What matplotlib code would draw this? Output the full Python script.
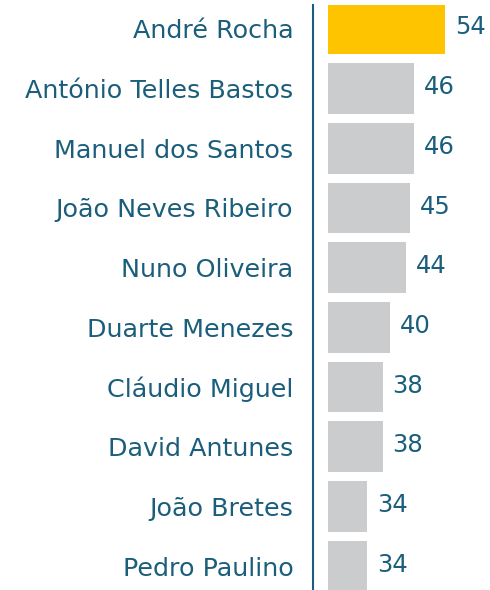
import matplotlib
matplotlib.use("Agg")
import matplotlib.pyplot as plt

names = ["André Rocha", "António Telles Bastos", "Manuel dos Santos",
         "João Neves Ribeiro", "Nuno Oliveira", "Duarte Menezes",
         "Cláudio Miguel", "David Antunes", "João Bretes", "Pedro Paulino"]
values = [54, 46, 46, 45, 44, 40, 38, 38, 34, 34]
highlight = "André Rocha"

TEXT = "#1B5E7B"
GOLD = "#FFC400"
GRAY = "#CBCCCE"

plt.rcParams['font.family'] = ['DejaVu Sans']

fig = plt.figure(figsize=(4.9, 5.9), dpi=100)
ax = fig.add_axes([328/490, 0, 152/490, 585/590])

for s in ['top', 'right', 'bottom']:
    ax.spines[s].set_visible(False)
ax.spines['left'].set_position(('outward', 11))
ax.spines['left'].set_color(TEXT)
ax.spines['left'].set_linewidth(1.5)

ypos = list(range(len(names)))
colors = [GOLD if n == highlight else GRAY for n in names]
bars = ax.barh(ypos, values, height=0.85, color=colors)

ax.set_xlim(24, 63)
ax.set_ylim(9.4, -0.4)
ax.set_yticks(ypos)
ax.set_yticklabels(names)
ax.tick_params(axis='y', length=0, pad=14, labelsize=18.3, labelcolor=TEXT)
ax.set_xticks([])

for b, v in zip(bars, values):
    ax.annotate(str(v), xy=(b.get_width(), b.get_y() + b.get_height() / 2),
                xytext=(7, 1), textcoords='offset points',
                va='center', ha='left', fontsize=17.5, color=TEXT)

fig.savefig("out.png", dpi=100)
